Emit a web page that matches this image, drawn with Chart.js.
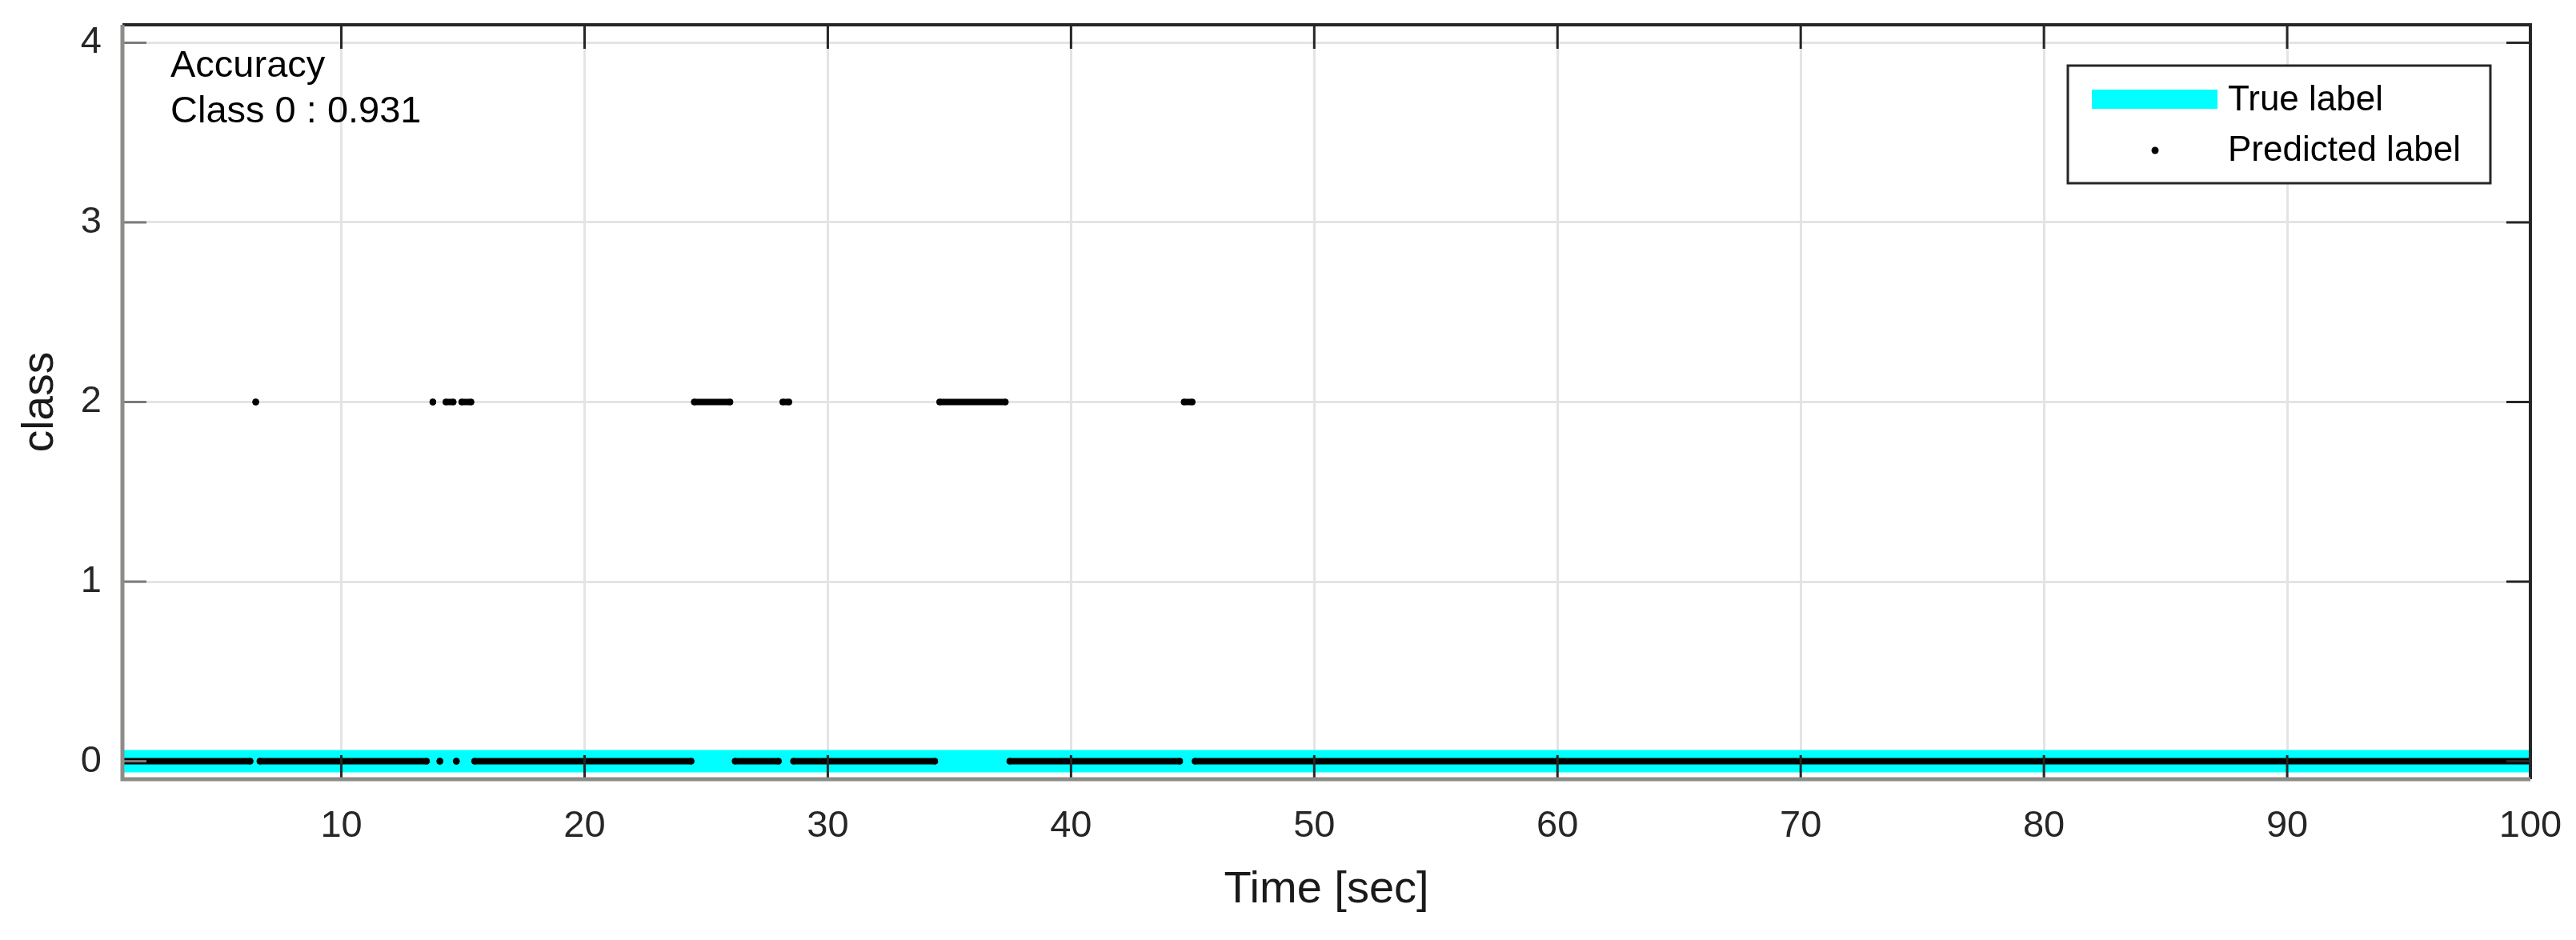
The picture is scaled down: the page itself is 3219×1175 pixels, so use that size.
<!DOCTYPE html>
<html>
<head>
<meta charset="utf-8">
<title>True vs predicted label</title>
<script src="https://cdn.jsdelivr.net/npm/chart.js@4.4.1/dist/chart.umd.min.js"></script>
<style>
  html, body { margin: 0; padding: 0; background: #fff; overflow: hidden; }
  #wrap { width: 3219px; height: 1175px; }
</style>
</head>
<body>
<div id="wrap"><canvas id="classChart" width="3219" height="1175"></canvas></div>
<script>
// Axis ticks
const xTicks = [10, 20, 30, 40, 50, 60, 70, 80, 90, 100];
const yTicks = [0, 1, 2, 3, 4];

// True label: class 0 over the whole recording
const trueTime = [1, 100];
const trueClass = [0, 0];

// Predicted label, as runs of constant class (start sec, end sec, class)
const predStart = [1.0, 6.48, 6.65, 13.76, 14.05, 14.3, 14.73, 14.95, 15.48, 24.51, 26.19, 28.15, 28.59, 34.6, 37.48, 44.65, 45.1];
const predEnd   = [6.25, 6.48, 13.5, 13.76, 14.05, 14.6, 14.73, 15.33, 24.38, 25.98, 27.97, 28.4, 34.4, 37.3, 44.47, 44.98, 100];
const predClass = [0, 2, 0, 2, 0, 2, 0, 2, 0, 2, 0, 2, 0, 2, 0, 2, 0];

const accuracyLines = ['Accuracy', 'Class 0 : 0.931'];
const legendLabels = ['True label', 'Predicted label'];

const FONT = '"Liberation Sans", Arial, Helvetica, sans-serif';
const TRUE_COLOR = '#00ffff';
const PRED_COLOR = '#000000';

// build the point lists from the arrays above
const trueData = trueTime.map((t, i) => ({ x: t, y: trueClass[i] }));
const predData = [];
predStart.forEach((s, i) => {
    predData.push({ x: s, y: predClass[i] });
    predData.push({ x: predEnd[i], y: predClass[i] });
    if (i < predStart.length - 1) {
        predData.push({ x: predEnd[i], y: null }); // break between runs
    }
});

// MATLAB-like box, inward ticks, annotation and legend
const matlabDecor = {
    id: 'matlabDecor',
    afterDatasetsDraw(chart) {
        const { ctx, chartArea: a, scales: { x, y } } = chart;
        ctx.save();

        // tick marks pointing inward
        const tl = 30;
        ctx.lineWidth = 3;
        xTicks.forEach(v => {
            const px = x.getPixelForValue(v);
            ctx.strokeStyle = '#262626';
            ctx.beginPath();
            ctx.moveTo(px, a.bottom); ctx.lineTo(px, a.bottom - tl);
            ctx.moveTo(px, a.top); ctx.lineTo(px, a.top + tl);
            ctx.stroke();
        });
        yTicks.forEach(v => {
            const py = y.getPixelForValue(v);
            ctx.strokeStyle = '#7a7a7a';
            ctx.beginPath();
            ctx.moveTo(a.left, py); ctx.lineTo(a.left + tl, py);
            ctx.stroke();
            ctx.strokeStyle = '#262626';
            ctx.beginPath();
            ctx.moveTo(a.right, py); ctx.lineTo(a.right - tl, py);
            ctx.stroke();
        });

        // box
        ctx.lineWidth = 4;
        ctx.strokeStyle = '#262626';
        ctx.beginPath();
        ctx.moveTo(a.left, a.top); ctx.lineTo(a.right, a.top); ctx.lineTo(a.right, a.bottom);
        ctx.stroke();
        ctx.lineWidth = 5;
        ctx.strokeStyle = '#8c8c88';
        ctx.beginPath();
        ctx.moveTo(a.left, a.top); ctx.lineTo(a.left, a.bottom); ctx.lineTo(a.right, a.bottom);
        ctx.stroke();

        // accuracy annotation
        ctx.fillStyle = '#000';
        ctx.font = '47px ' + FONT;
        ctx.textAlign = 'left';
        ctx.textBaseline = 'alphabetic';
        ctx.fillText(accuracyLines[0], a.left + 60, a.top + 65);
        ctx.fillText(accuracyLines[1], a.left + 60, a.top + 122);

        // legend box
        const bx = a.right - 578, by = a.top + 51, bw = 528, bh = 147;
        ctx.fillStyle = '#fff';
        ctx.fillRect(bx, by, bw, bh);
        ctx.lineWidth = 3;
        ctx.strokeStyle = '#262626';
        ctx.strokeRect(bx, by, bw, bh);

        ctx.fillStyle = TRUE_COLOR;
        ctx.fillRect(bx + 30, by + 30, 157, 24);
        ctx.fillStyle = PRED_COLOR;
        ctx.beginPath();
        ctx.arc(bx + 109, by + 106, 4.5, 0, Math.PI * 2);
        ctx.fill();

        ctx.font = '44px ' + FONT;
        ctx.textBaseline = 'middle';
        ctx.fillStyle = '#000';
        ctx.fillText(legendLabels[0], bx + 200, by + 44);
        ctx.fillText(legendLabels[1], bx + 200, by + 107);

        ctx.restore();
    }
};

const chart = new Chart(document.getElementById('classChart'), {
    type: 'line',
    data: {
        datasets: [
            {
                label: legendLabels[1],
                data: predData,
                borderColor: PRED_COLOR,
                backgroundColor: PRED_COLOR,
                borderWidth: 8,
                borderCapStyle: 'round',
                pointRadius: 4,
                pointBorderWidth: 0,
                pointBackgroundColor: PRED_COLOR,
                spanGaps: false,
                tension: 0,
                order: 0
            },
            {
                label: legendLabels[0],
                data: trueData,
                borderColor: TRUE_COLOR,
                borderWidth: 28,
                borderCapStyle: 'butt',
                pointRadius: 0,
                tension: 0,
                order: 1
            }
        ]
    },
    options: {
        responsive: false,
        animation: false,
        devicePixelRatio: 1,
        layout: { padding: { left: 0, right: 57, top: 31, bottom: 0 } },
        plugins: {
            legend: { display: false },
            tooltip: { enabled: false }
        },
        scales: {
            x: {
                type: 'linear',
                min: 1,
                max: 100,
                afterBuildTicks: s => { s.ticks = xTicks.map(v => ({ value: v })); },
                afterFit: s => {
                    s.height = 201;
                    s.paddingLeft = 0;
                    s.paddingRight = 0;
                },
                border: { display: false },
                grid: { color: '#e4e4e4', lineWidth: 3, drawTicks: false },
                ticks: {
                    padding: 31,
                    maxRotation: 0,
                    autoSkip: false,
                    color: '#262626',
                    font: { family: FONT, size: 47 }
                },
                title: {
                    display: true,
                    text: 'Time [sec]',
                    color: '#1a1a1a',
                    font: { family: FONT, size: 56 },
                    padding: { top: 0, bottom: 29 }
                }
            },
            y: {
                type: 'linear',
                min: -0.1,
                max: 4.1,
                afterBuildTicks: s => { s.ticks = yTicks.map(v => ({ value: v })); },
                afterFit: s => {
                    s.width = 153;
                    s.paddingTop = 0;
                    s.paddingBottom = 0;
                },
                border: { display: false },
                grid: { color: '#e4e4e4', lineWidth: 3, drawTicks: false },
                ticks: {
                    padding: 26,
                    autoSkip: false,
                    color: '#262626',
                    font: { family: FONT, size: 47 }
                },
                title: {
                    display: true,
                    text: 'class',
                    color: '#1a1a1a',
                    font: { family: FONT, size: 55 },
                    padding: { top: 18, bottom: 0 }
                }
            }
        }
    },
    plugins: [matlabDecor]
});
</script>
</body>
</html>
